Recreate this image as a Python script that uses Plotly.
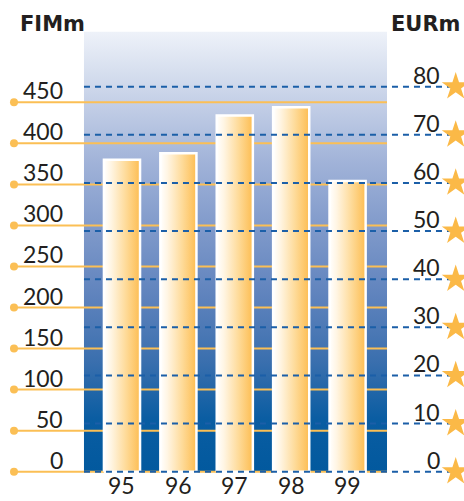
import plotly.graph_objects as go

# Data
years = ["95", "96", "97", "98", "99"]
fim_values = [380, 388, 434, 444, 354]          # FIM million
fim_ticks = [0, 50, 100, 150, 200, 250, 300, 350, 400, 450]
eur_ticks = [0, 10, 20, 30, 40, 50, 60, 70, 80]

# Layout geometry (axis units: x = category index, y = FIMm, y2 = EURm)
X_RANGE = [-2.163, 6.064]
Y_RANGE = [-35.69, 574.6]
Y2_RANGE = [-6.088, 98.016]
PANEL_X0, PANEL_X1, PANEL_TOP = -0.674, 4.699, 536
DOT_X = -1.915
STAR_X = 5.917
LEFT_LABEL_X = -1.011
RIGHT_LABEL_X = 5.674
BAR_W = 0.64

ORANGE = "#fbbf55"
BLUE = "#1b5fa8"
TEXT = "#231f20"

fig = go.Figure()

# Gradient panel behind the bars
fig.add_trace(go.Scatter(
    x=[PANEL_X0, PANEL_X1, PANEL_X1, PANEL_X0, PANEL_X0],
    y=[0, 0, PANEL_TOP, PANEL_TOP, 0],
    mode="lines", line=dict(width=0), fill="toself",
    fillgradient=dict(type="vertical", colorscale=[
        [0, "#02599e"], [0.12, "#0a5da2"], [0.25, "#3a6fae"], [0.4, "#5f83bd"],
        [0.55, "#7f99ca"], [0.7, "#a0b2d8"], [0.85, "#c7d2e8"], [1, "#eef2f9"]]),
    hoverinfo="skip", showlegend=False))

# Dashed EUR gridlines
ex, ey = [], []
for e in eur_ticks:
    ex += [PANEL_X0, STAR_X, None]
    ey += [e, e, None]
fig.add_trace(go.Scatter(x=ex, y=ey, yaxis="y2", mode="lines",
                         line=dict(color=BLUE, width=2, dash="6px,5px"),
                         hoverinfo="skip", showlegend=False))

# Solid FIM gridlines with dots
fx, fy = [], []
for v in fim_ticks:
    fx += [DOT_X, PANEL_X1, None]
    fy += [v, v, None]
fig.add_trace(go.Scatter(x=fx, y=fy, mode="lines",
                         line=dict(color=ORANGE, width=2),
                         hoverinfo="skip", showlegend=False))
fig.add_trace(go.Scatter(x=[DOT_X] * len(fim_ticks), y=fim_ticks, mode="markers",
                         marker=dict(color=ORANGE, size=8, line=dict(width=0)),
                         hoverinfo="skip", showlegend=False))

# Bars with horizontal white-to-orange gradient
for i, v in enumerate(fim_values):
    x0, x1 = i - BAR_W / 2, i + BAR_W / 2
    fig.add_trace(go.Scatter(
        x=[x0, x1, x1, x0, x0], y=[0, 0, v, v, 0],
        mode="lines", line=dict(color="white", width=2.5), fill="toself",
        fillgradient=dict(type="horizontal", colorscale=[
            [0, "#ffffff"], [0.2, "#fff5e3"], [0.6, "#fedb9a"], [1, "#fdbd52"]]),
        name=years[i], hovertemplate="%{text}<extra></extra>",
        text=[f"19{years[i]}: {v} FIMm"] * 5, showlegend=False))

# Stars at the end of the EUR gridlines
fig.add_trace(go.Scatter(x=[STAR_X] * len(eur_ticks), y=eur_ticks, yaxis="y2",
                         mode="markers",
                         marker=dict(symbol="star", size=21, color="#fbb947",
                                     line=dict(width=0)),
                         hoverinfo="skip", showlegend=False))

ann = []
for v in fim_ticks:
    ann.append(dict(x=LEFT_LABEL_X, y=v, xref="x", yref="y", text=str(v),
                    xanchor="right", yanchor="middle", yshift=12, showarrow=False,
                    font=dict(family="Lato", size=23, color=TEXT)))
for e in eur_ticks:
    ann.append(dict(x=RIGHT_LABEL_X, y=e, xref="x", yref="y2", text=str(e),
                    xanchor="right", yanchor="middle", yshift=12, showarrow=False,
                    font=dict(family="Lato", size=23, color=TEXT)))
for i, yr in enumerate(years):
    ann.append(dict(x=i, y=0, xref="x", yref="y", text=yr,
                    xanchor="center", yanchor="bottom", yshift=-29, showarrow=False,
                    font=dict(family="Lato", size=23, color=TEXT)))

# Unit titles, positioned in paper coordinates
W, H = 464, 501
ann.append(dict(x=18 / W, y=1 - 24 / H, xref="paper", yref="paper",
                xanchor="left", yanchor="middle", text="<b>FIMm</b>", showarrow=False,
                font=dict(family="DejaVu Sans", size=21, color=TEXT)))
ann.append(dict(x=462 / W, y=1 - 24 / H, xref="paper", yref="paper",
                xanchor="right", yanchor="middle", text="<b>EURm</b>", showarrow=False,
                font=dict(family="DejaVu Sans", size=21, color=TEXT)))

fig.update_layout(
    width=W, height=H, autosize=False,
    margin=dict(l=0, r=0, t=0, b=0),
    paper_bgcolor="white", plot_bgcolor="white",
    xaxis=dict(range=X_RANGE, visible=False, fixedrange=True),
    yaxis=dict(range=Y_RANGE, visible=False, fixedrange=True),
    yaxis2=dict(range=Y2_RANGE, visible=False, overlaying="y", fixedrange=True),
    annotations=ann,
    showlegend=False,
)

fig.write_html("out.html")
